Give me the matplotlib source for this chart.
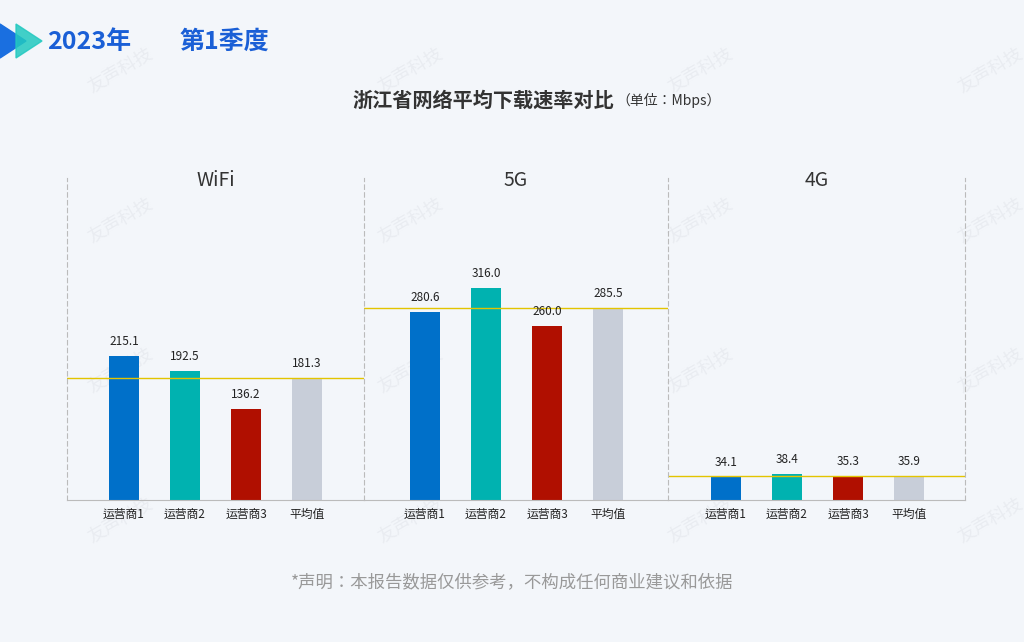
import matplotlib
matplotlib.use("Agg")
import matplotlib.pyplot as plt
from matplotlib.patches import Polygon
from matplotlib import font_manager

names = {f.name for f in font_manager.fontManager.ttflist}
cjk = [n for n in ["Noto Sans CJK SC", "Noto Sans CJK JP", "Noto Sans CJK TC", "Noto Sans CJK KR"] if n in names]
plt.rcParams["font.family"] = ["sans-serif"]
plt.rcParams["font.sans-serif"] = cjk + ["DejaVu Sans"]

panels = ["WiFi", "5G", "4G"]
categories = ["运营商1", "运营商2", "运营商3", "平均值"]
values = {
    "WiFi": [215.1, 192.5, 136.2, 181.3],
    "5G": [280.6, 316.0, 260.0, 285.5],
    "4G": [34.1, 38.4, 35.3, 35.9],
}
colors = ["#0070c9", "#00b2b0", "#b00f00", "#c8ced9"]
bg = "#f3f6fa"

W, H = 1024, 642
fig = plt.figure(figsize=(W/100, H/100), dpi=100, facecolor=bg)

edges = [67, 364, 668, 965]
first_offset = [57, 61, 58]
top, base = 178, 500
for i, p in enumerate(panels):
    x0, x1 = edges[i], edges[i+1]
    ax = fig.add_axes([x0/W, 1-base/H, (x1-x0)/W, (base-top)/H])
    ax.set_facecolor("none")
    vals = values[p]
    xs = range(len(categories))
    ax.bar(xs, vals, width=0.49, color=colors)
    for x, v in zip(xs, vals):
        ax.text(x, v + 12, f"{v:.1f}", ha="center", va="bottom", fontsize=8.5, color="#222")
    ax.axhline(vals[-1], color="#e3c400", lw=1)
    lo = -first_offset[i] / 61
    ax.set_xlim(lo, lo + (x1 - x0) / 61)
    ax.set_ylim(0, 480)
    ax.set_yticks([])
    ax.set_xticks(list(xs))
    ax.set_xticklabels(categories, fontsize=8.5, color="#222")
    ax.tick_params(axis="x", length=0, pad=6)
    for s in ["top", "right"]:
        ax.spines[s].set_visible(False)
    ax.spines["bottom"].set_color("#bbbbbb")
    ax.spines["left"].set_linestyle((0, (4, 3)))
    ax.spines["left"].set_color("#bbbbbb")
    if i == 2:
        ax.spines["right"].set_visible(True)
        ax.spines["right"].set_linestyle((0, (4, 3)))
        ax.spines["right"].set_color("#bbbbbb")
    fig.text(((x0 + x1) / 2) / W, 1 - 180/H, p, ha="center", va="center", fontsize=14, color="#333")

fig.text(614/W, 1-100/H, "浙江省网络平均下载速率对比", ha="right", va="center",
         fontsize=14.5, fontweight="bold", color="#333")
fig.text(616/W, 1-100/H, "（单位：Mbps）", ha="left", va="center", fontsize=10, color="#333")
fig.text(512/W, 1-582/H, "*声明：本报告数据仅供参考，不构成任何商业建议和依据",
         ha="center", va="center", fontsize=12.5, color="#999")

lax = fig.add_axes([0, 1-62/H, 50/W, 42/H]); lax.axis("off")
lax.set_xlim(0, 50); lax.set_ylim(0, 42)
lax.add_patch(Polygon([[0, 4], [0, 38], [26, 21]], color="#1a6fe0"))
lax.add_patch(Polygon([[16, 4], [16, 38], [42, 21]], color="#22c9c0", alpha=0.85))
fig.text(47/W, 1-42/H, "2023年", ha="left", va="center", fontsize=18, fontweight="heavy", color="#1a5fd6")
fig.text(180/W, 1-42/H, "第1季度", ha="left", va="center", fontsize=18, fontweight="heavy", color="#1a5fd6")

for yy in range(70, 642, 150):
    for xx in range(120, 1024, 290):
        fig.text(xx/W, 1-yy/H, "友声科技", rotation=30, fontsize=13, color="#e9ecf1", ha="center", va="center", zorder=-1)

fig.savefig("out.png", dpi=100, facecolor=bg)
